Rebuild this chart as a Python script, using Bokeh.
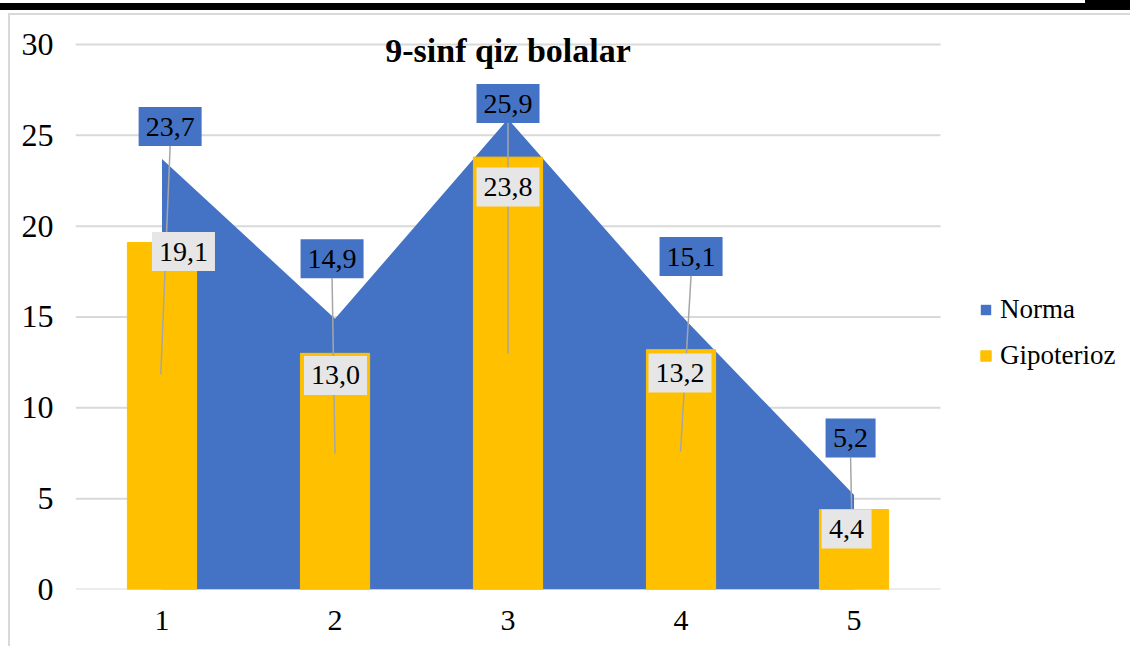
from bokeh.plotting import figure
from bokeh.models import Range1d, Legend, LegendItem, Label, ColumnDataSource, FixedTicker, Div
from bokeh.layouts import column, row
from bokeh.core.properties import value
from bokeh.embed import file_html
from bokeh.resources import INLINE

# ---- data ----
categories = [1, 2, 3, 4, 5]
norma = [23.7, 14.9, 25.9, 15.1, 5.2]
gipoterioz = [19.1, 13.0, 23.8, 13.2, 4.4]
y_ticks = [0, 5, 10, 15, 20, 25, 30]
x_tick_labels = ["1", "2", "3", "4", "5"]
title_text = "9-sinf qiz bolalar"
series_names = ["Norma", "Gipoterioz"]

# ---- style: label placement offsets (axis units) ----
norma_lbl_dx = [0.047, -0.017, 0.0, 0.058, -0.02]
norma_lbl_dy = [1.78, 3.3, 0.85, 3.23, 3.14]
gip_lbl_dx = [0.124, 0.003, 0.0, -0.006, -0.043]
gip_lbl_dy = [-0.5, -1.22, -1.65, -1.28, -1.07]
lead_bot_dx = [-0.007, 0.0, 0.0, -0.003, -0.014]
lead_bot_frac = [0.62, 0.575, 0.546, 0.575, 1.0]
half_box = 1.07

BLUE = "#4472C4"
GOLD = "#FFC000"
GRID = "#D9D9D9"
FONT = "Liberation Serif"

def fmt(v):
    return f"{v:.1f}".replace(".", ",")

x_lo, x_hi = 0.5, 5.5
p = figure(width=1120, height=631, output_backend="svg", toolbar_location=None,
           x_range=Range1d(x_lo, 6.598), y_range=Range1d(0, 31.596),
           min_border_left=65, min_border_right=0, min_border_top=0, min_border_bottom=57,
           margin=0)
p.outline_line_color = None
p.background_fill_color = "white"
p.border_fill_color = "white"

# gridlines (only across the plot area)
p.segment(x0=[x_lo] * len(y_ticks), y0=y_ticks, x1=[x_hi] * len(y_ticks), y1=y_ticks,
          line_color=GRID, line_width=2)

area = p.varea(x=categories, y1=[0] * len(categories), y2=norma, fill_color=BLUE)
bars = p.vbar(x=categories, top=gipoterioz, width=0.4, fill_color=GOLD, line_color=GOLD)

# leader lines
lx0 = [c + d for c, d in zip(categories, norma_lbl_dx)]
ly0 = [v + d - half_box for v, d in zip(norma, norma_lbl_dy)]
lx1 = [c + d for c, d in zip(categories, lead_bot_dx)]
ly1 = [g * f for g, f in zip(gipoterioz, lead_bot_frac)]
p.segment(x0=lx0, y0=ly0, x1=lx1, y1=ly1, line_color="#A6A6A6", line_width=1.5)

# norma labels
nsrc = ColumnDataSource(dict(
    x=[c + d for c, d in zip(categories, norma_lbl_dx)],
    y=[v + d for v, d in zip(norma, norma_lbl_dy)],
    t=[fmt(v) for v in norma],
    w=[63 if len(fmt(v)) > 3 else 50 for v in norma]))
p.rect(x="x", y="y", width="w", height=39, width_units="screen", height_units="screen",
       source=nsrc, fill_color=BLUE, line_color=None)
p.text(x="x", y="y", text="t", source=nsrc, text_font=value(FONT), text_font_size="28px",
       text_align="center", text_baseline="middle", text_color="black")

gsrc = ColumnDataSource(dict(
    x=[c + d for c, d in zip(categories, gip_lbl_dx)],
    y=[v + d for v, d in zip(gipoterioz, gip_lbl_dy)],
    t=[fmt(v) for v in gipoterioz],
    w=[63 if len(fmt(v)) > 3 else 50 for v in gipoterioz]))
p.rect(x="x", y="y", width="w", height=39, width_units="screen", height_units="screen",
       source=gsrc, fill_color="#E7E6E6", line_color=None)
p.text(x="x", y="y", text="t", source=gsrc, text_font=value(FONT), text_font_size="28px",
       text_align="center", text_baseline="middle", text_color="black")

# title
p.add_layout(Label(x=3, y=29.67, text=title_text, text_font=FONT, text_font_size="34px",
                   text_font_style="bold", text_align="center", text_baseline="middle",
                   text_color="black"))

# axes
p.yaxis.ticker = FixedTicker(ticks=y_ticks)
p.yaxis.axis_line_color = None
p.yaxis.major_tick_line_color = None
p.yaxis.minor_tick_line_color = None
p.yaxis.major_label_text_font = FONT
p.yaxis.major_label_text_font_size = "32px"
p.yaxis.major_label_text_color = "black"
p.yaxis.major_label_standoff = 16

p.xaxis.ticker = FixedTicker(ticks=categories)
p.xaxis.major_label_overrides = {c: l for c, l in zip(categories, x_tick_labels)}
p.xaxis.axis_line_color = None
p.xaxis.major_tick_line_color = None
p.xaxis.minor_tick_line_color = None
p.xaxis.major_label_text_font = FONT
p.xaxis.major_label_text_font_size = "30px"
p.xaxis.major_label_text_color = "black"
p.xaxis.major_label_standoff = 15

p.xgrid.grid_line_color = None
p.ygrid.grid_line_color = None

legend = Legend(items=[LegendItem(label=series_names[0], renderers=[area]),
                       LegendItem(label=series_names[1], renderers=[bars])],
                location=(904, 218), orientation="vertical")
legend.border_line_color = None
legend.background_fill_alpha = 0
legend.padding = 0
legend.margin = 0
legend.glyph_width = 13
legend.glyph_height = 13
legend.label_standoff = 8
legend.spacing = 15
legend.label_text_font = FONT
legend.label_text_font_size = "27px"
legend.label_text_color = "black"
p.add_layout(legend, "center")

top_gap = row(Div(width=1085, height=3, margin=0),
              Div(width=45, height=3, margin=0, styles={"background-color": "black"}), spacing=0)
band = Div(width=1130, height=7, margin=0, styles={"background-color": "black"})
gap2 = Div(width=1130, height=3, margin=0)
border_top = Div(width=1122, height=2, margin=(0, 0, 0, 8), styles={"background-color": GRID})
left_pad = Div(width=8, height=631, margin=0)
left_border = Div(width=2, height=631, margin=0, styles={"background-color": GRID})
layout = column(top_gap, band, gap2, border_top, row(left_pad, left_border, p, spacing=0), spacing=0)

open("out.html", "w").write(file_html(layout, INLINE))
